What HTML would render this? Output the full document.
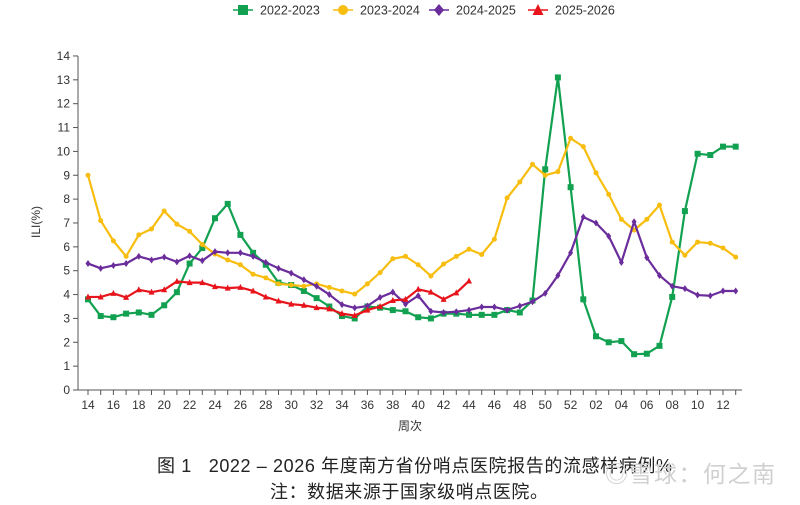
<!DOCTYPE html>
<html><head><meta charset="utf-8">
<style>
html,body{margin:0;padding:0;background:#fff;width:800px;height:505px;overflow:hidden;}
svg text{font-family:"Liberation Sans","Noto Sans CJK SC",sans-serif;}
</style></head>
<body>
<svg id="chart" width="800" height="505" viewBox="0 0 800 505" xmlns="http://www.w3.org/2000/svg">
<g id="legend"></g>
<g id="axes"></g>
<g id="series"></g>
<text x="40" y="222" font-size="12" fill="#333" text-anchor="middle" transform="rotate(-90 40 222)">ILI(%)</text>
<text x="410" y="430" font-size="12" fill="#333" text-anchor="middle">周次</text>
<text x="157" y="472" font-size="18" fill="#222" textLength="515" lengthAdjust="spacing">图 1&#160;&#160;&#160;2022 – 2026 年度南方省份哨点医院报告的流感样病例%</text>
<text x="270" y="498" font-size="18" fill="#222" textLength="278" lengthAdjust="spacing">注：数据来源于国家级哨点医院。</text>
<text x="605" y="482" font-size="23" fill="#d0d0d0" textLength="170" lengthAdjust="spacing">◎雪球：何之南</text>
</svg>
<script>
const weeks = ["14","15","16","17","18","19","20","21","22","23","24","25","26","27","28","29","30","31","32","33","34","35","36","37","38","39","40","41","42","43","44","45","46","47","48","49","50","51","52","01","02","03","04","05","06","07","08","09","10","11","12","13"];
const xTickLabels = ["14","16","18","20","22","24","26","28","30","32","34","36","38","40","42","44","46","48","50","52","02","04","06","08","10","12"];
const yTicks = [0,1,2,3,4,5,6,7,8,9,10,11,12,13,14];
const seriesNames = ["2022-2023","2023-2024","2024-2025","2025-2026"];
const s2022 = [3.8,3.1,3.05,3.2,3.25,3.15,3.55,4.1,5.3,5.95,7.2,7.8,6.5,5.75,5.25,4.5,4.4,4.15,3.85,3.5,3.1,3.0,3.5,3.45,3.35,3.3,3.05,3.0,3.2,3.2,3.15,3.15,3.15,3.35,3.25,3.75,9.25,13.1,8.5,3.8,2.25,2.0,2.05,1.5,1.52,1.85,3.9,7.5,9.9,9.85,10.2,10.2];
const s2023 = [9.0,7.1,6.25,5.6,6.5,6.75,7.5,6.95,6.65,6.1,5.7,5.45,5.25,4.85,4.7,4.45,4.4,4.35,4.45,4.3,4.15,4.02,4.45,4.92,5.5,5.6,5.25,4.78,5.28,5.6,5.9,5.68,6.32,8.05,8.72,9.46,9.0,9.15,10.55,10.2,9.1,8.2,7.15,6.7,7.15,7.75,6.2,5.65,6.2,6.15,5.95,5.57];
const s2024 = [5.3,5.1,5.22,5.3,5.6,5.45,5.57,5.37,5.62,5.42,5.8,5.75,5.75,5.6,5.35,5.1,4.9,4.62,4.35,4.0,3.58,3.44,3.52,3.88,4.1,3.6,3.95,3.3,3.25,3.28,3.35,3.48,3.48,3.35,3.52,3.7,4.05,4.8,5.75,7.25,7.0,6.45,5.35,7.05,5.55,4.8,4.35,4.25,3.98,3.95,4.15,4.15];
const s2025 = [3.9,3.9,4.05,3.88,4.2,4.1,4.2,4.55,4.5,4.5,4.33,4.27,4.3,4.15,3.9,3.73,3.6,3.55,3.45,3.4,3.2,3.12,3.35,3.5,3.75,3.8,4.22,4.1,3.8,4.07,4.57];
const colors = ["#12a150","#f7bd0f","#6a2d9b","#e8141b"];
const markers = ["square","circle","diamond","triangle"];

const NS="http://www.w3.org/2000/svg";
const X0=88, XSTEP=12.7, Y0=390, YUNIT=23.86;
function xScale(i){return X0+i*XSTEP;}
function yScale(v){return Y0-v*YUNIT;}
function mk(tag,attrs,parent){const e=document.createElementNS(NS,tag);for(const k in attrs)e.setAttribute(k,attrs[k]);parent.appendChild(e);return e;}

const axes=document.getElementById('axes');
let ln=mk('line',{x1:78,y1:56,x2:78,y2:390,stroke:'#555','stroke-width':1},axes);


ln=mk('line',{x1:78,y1:390,x2:742,y2:390,stroke:'#555','stroke-width':1},axes);


yTicks.forEach(v=>{
  const y=yScale(v);
  const t=mk('line',{x1:73,y1:y,x2:78,y2:y,stroke:'#555'},axes);
  
  
  const tx=mk('text',{x:70,y:y+4,'font-size':12,fill:'#333','text-anchor':'end'},axes);
  tx.textContent=v;
  
  
});
weeks.forEach((w,i)=>{
  const x=xScale(i);
  const t=mk('line',{x1:x,y1:390,x2:x,y2:395,stroke:'#555'},axes);
  
  
  const secondHalf = i>=39;
  const isLater = ["02","04","06","08","10","12"].includes(w);
  if(xTickLabels.includes(w) && (isLater ? secondHalf : !secondHalf)){
    const tx=mk('text',{x:x,y:409,'font-size':12,fill:'#333','text-anchor':'middle'},axes);
    tx.textContent=w;
    
    
  }
});

function marker(type,x,y,color,parent,s){
  let e;
  if(type==='square') e=mk('rect',{x:x-s,y:y-s,width:2*s,height:2*s,fill:color},parent);
  else if(type==='circle') e=mk('circle',{cx:x,cy:y,r:s,fill:color},parent);
  else if(type==='diamond') e=mk('polygon',{points:`${x},${y-s-1} ${x+s},${y} ${x},${y+s+1} ${x-s},${y}`,fill:color},parent);
  else e=mk('polygon',{points:`${x},${y-s-1} ${x+s+0.5},${y+s} ${x-s-0.5},${y+s}`,fill:color},parent);
  return e;
}

const seriesG=document.getElementById('series');
const allData=[s2022,s2023,s2024,s2025];
const seriesKeys=["series-2022-2023","series-2023-2024","series-2024-2025","series-2025-2026"];
allData.forEach((data,si)=>{
  const g=mk('g',{},seriesG);
  
  
  const pts=data.map((v,i)=>xScale(i)+','+yScale(v)).join(' ');
  const pl=mk('polyline',{points:pts,fill:'none',stroke:colors[si],'stroke-width':2.2,'stroke-linejoin':'round'},g);
  
  
  data.forEach((v,i)=>{
    const m=marker(markers[si],xScale(i),yScale(v),colors[si],g,si===0?3:2.5);
    
    
  });
});

const legend=document.getElementById('legend');
const legX=[233,333,429,528];
seriesNames.forEach((n,i)=>{
  const g=mk('g',{},legend);
  
  
  mk('line',{x1:legX[i],y1:10,x2:legX[i]+20,y2:10,stroke:colors[i],'stroke-width':1.5},g);
  marker(markers[i],legX[i]+10,10,colors[i],g,5);
  const t=mk('text',{x:legX[i]+27,y:14.5,'font-size':12.5,fill:'#333'},g);
  t.textContent=n;
});
</script>
</body></html>
